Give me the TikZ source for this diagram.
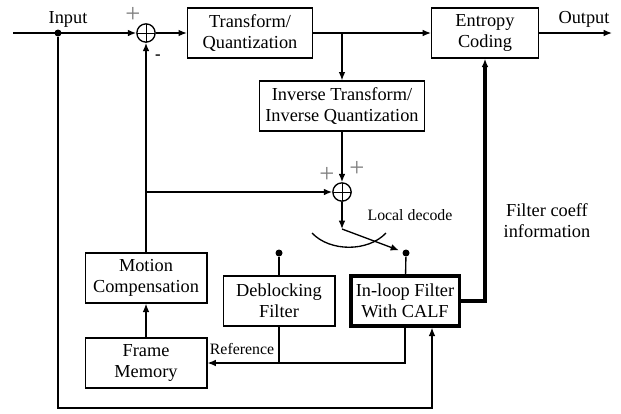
\documentclass[tikz,border=0pt]{standalone}
\usepackage{fontspec}
\setmainfont{Liberation Serif}
\usetikzlibrary{arrows.meta}
\begin{document}
\begin{tikzpicture}[x=0.6pt, y=-0.6pt,
    font=\fontsize{11}{12.5}\selectfont,
    line width=0.8pt,
    arr/.style={-{Latex[length=5pt,width=4pt]}},
    blk/.style={draw, align=center, inner sep=1pt, minimum height=30pt},
    adder/.style={draw, circle, minimum size=11pt, inner sep=0pt,
        path picture={\draw[line width=0.6pt]
            (path picture bounding box.north) -- (path picture bounding box.south)
            (path picture bounding box.west) -- (path picture bounding box.east);}},
    dot/.style={circle, fill, minimum size=4.2pt, inner sep=0pt},
    sign/.style={text=gray, font=\fontsize{16}{16}\selectfont},
    small/.style={font=\fontsize{9.5}{11}\selectfont}]
    \useasboundingbox (0,0) rectangle (621,413);

    % blocks
    \node[blk, minimum width=75pt]  (tq)  at (250,33)  {Transform/\\Quantization};
    \node[blk, minimum width=64pt]  (ent) at (485,33)  {Entropy\\Coding};
    \node[blk, minimum width=99pt]  (inv) at (342,106) {Inverse Transform/\\Inverse Quantization};
    \node[blk, minimum width=73pt]  (mc)  at (146,278) {Motion\\Compensation};
    \node[blk, minimum width=67pt]  (db)  at (279,301) {Deblocking\\Filter};
    \node[blk, minimum width=65pt, line width=2pt] (ilf) at (405,301) {In-loop Filter\\With CALF};
    \node[blk, minimum width=73pt]  (fm)  at (146,363) {Frame\\Memory};

    % adders and dots
    \node[adder] (add1) at (146,33) {};
    \node[adder] (add2) at (342,192) {};
    \node[dot] (indot) at (58,33) {};
    \node[dot] (dbdot) at (279,253) {};
    \node[dot] (ildot) at (406,253) {};

    \coordinate (inL)   at (13,33);
    \coordinate (outR)  at (612,33);
    \coordinate (br)    at (342,33);
    \coordinate (pivot) at (342,229);
    \coordinate (fbk)   at (432,408);

    % forward path
    \draw[arr] (inL) -- (add1);
    \draw[arr] (add1) -- (tq);
    \draw[arr] (tq) -- (ent);
    \draw[arr] (ent) -- (outR);
    \draw[arr] (br) -- (inv);
    \draw[arr] (inv) -- (add2);

    % prediction loop
    \draw[arr] (mc) -- (add1);
    \draw[arr] (mc.north |- add2) -- (add2);
    \draw[arr] (add2) -- (pivot);
    \draw[arr, shorten >=2pt] (pivot) -- (ildot);
    \draw (pivot) ++(-30,4) .. controls (330,252) and (368,252) .. (386,233);
    \draw (ildot) -- (ilf);
    \draw (dbdot) -- (db);
    \draw[arr] (ilf.south) |- (fm.east);
    \draw (db.south) -- (db.south |- fm.east);
    \draw[arr] (fm) -- (mc);
    \draw[arr] (indot) |- (fbk) -- (fbk |- ilf.south);
    \draw[arr, line width=2.2pt] (ilf.east) -| (ent.south);

    % labels
    \node at (68,19) {Input};
    \node at (584,19) {Output};
    \node[sign] at (133,15) {+};
    \node[font=\bfseries] at (158,57) {-};
    \node[sign] at (327,175) {+};
    \node[sign] at (357,169) {+};
    \node[small] at (410,215) {Local decode};
    \node[small] at (242,349) {Reference};
    \node[align=center] at (547,221) {Filter coeff\\information};
\end{tikzpicture}
\end{document}
